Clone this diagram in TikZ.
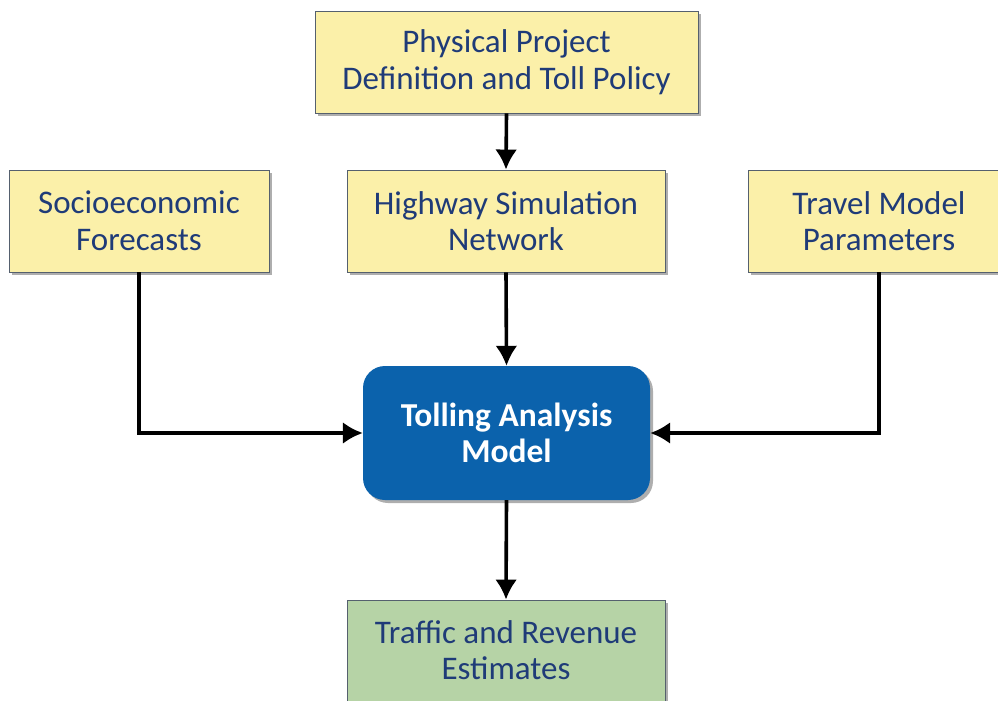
\documentclass[tikz,border=0pt]{standalone}
\usepackage{fontspec}
\setmainfont{Carlito}
\usetikzlibrary{arrows.meta,shadows,positioning}
\definecolor{ybox}{HTML}{FBF0A9}
\definecolor{gbox}{HTML}{B6D3A6}
\definecolor{bbox}{HTML}{0B62AC}
\definecolor{txt}{HTML}{1F3B78}
\definecolor{bord}{HTML}{55606E}
\begin{document}
\begin{tikzpicture}[x=1pt,y=-1pt,
  box/.style={draw=bord,line width=0.9pt,inner sep=0pt,align=center,text=txt,
     font=\fontsize{33}{36.5}\selectfont,
     drop shadow={shadow xshift=3pt,shadow yshift=-3pt,opacity=0.45,fill=black!70}},
  ybox/.style={box,fill=ybox},
  gbox/.style={box,fill=gbox},
  main/.style={fill=bbox,rounded corners=22pt,inner sep=0pt,align=center,text=white,
     font=\bfseries\fontsize{33.5}{36.5}\selectfont,
     drop shadow={shadow xshift=3pt,shadow yshift=-3pt,opacity=0.45,fill=black!70}},
  conn/.style={line width=3.6pt,-{Latex[length=20pt,width=22pt]}}]
\useasboundingbox (0,0) rectangle (998,701);
\clip (0,0) rectangle (998,701);
\fill[white] (0,0) rectangle (998,701);
\node[ybox,minimum width=383pt,minimum height=102pt] (phys) at (506.5,62) {Physical Project\\Definition and Toll Policy};
\node[ybox,minimum width=260pt,minimum height=102pt] (socio) at (139,221) {Socioeconomic\\Forecasts};
\node[ybox,minimum width=318pt,minimum height=102pt] (hwy) at (506,221) {Highway Simulation\\Network};
\node[ybox,minimum width=262pt,minimum height=102pt] (trav) at (879,221) {Travel Model\\Parameters};
\node[main,minimum width=287pt,minimum height=134pt] (toll) at (506.5,433) {Tolling Analysis\\Model};
\node[gbox,minimum width=318pt,minimum height=112pt] (traf) at (506,656) {Traffic and Revenue\\Estimates\rule[-12pt]{0pt}{0pt}};
\draw[conn] (phys.south) -- (hwy.north);
\draw[conn] (hwy.south) -- (toll.north);
\draw[conn] (toll.south) -- (traf.north);
\draw[conn] (socio.south) |- (toll.west);
\draw[conn] (trav.south) |- (toll.east);
\end{tikzpicture}
\end{document}
